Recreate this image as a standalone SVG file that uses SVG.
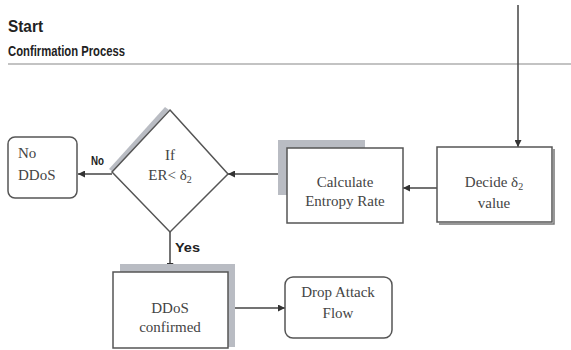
<svg xmlns="http://www.w3.org/2000/svg" width="571" height="350" viewBox="0 0 571 350">
  <defs>
    <marker id="arrow" viewBox="0 0 10 10" refX="10" refY="5" markerWidth="7" markerHeight="7" markerUnits="userSpaceOnUse" orient="auto">
      <path d="M0,0 L10,5 L0,10 Z" fill="#333"/>
    </marker>
  </defs>
  <style>
    .box { fill: #fff; stroke: #555; stroke-width: 1.5; }
    .shadow { fill: #b9bcc3; stroke: none; }
    .label { font-family: "Liberation Serif", "DejaVu Serif", serif; font-size: 15px; fill: #444; text-anchor: middle; }
    .head { font-family: "Liberation Sans", Arial, sans-serif; font-weight: bold; fill: #222; }
    .tag { font-family: "Liberation Sans", Arial, sans-serif; font-weight: bold; font-size: 12px; fill: #222; }
    .conn { stroke: #444; stroke-width: 1.5; fill: none; }
  </style>
  <rect width="571" height="350" fill="#fff"/>

  <!-- header -->
  <g id="header">
    <text class="head" x="8" y="32" font-size="17" textLength="35" lengthAdjust="spacingAndGlyphs">Start</text>
    <text class="head" x="8" y="56" font-size="15" textLength="117" lengthAdjust="spacingAndGlyphs">Confirmation Process</text>
    <line x1="8" y1="64" x2="571" y2="64" stroke="#888" stroke-width="1.2"/>
  </g>

  <!-- connectors -->
  <g id="connectors">
    <line class="conn" x1="518" y1="5" x2="518" y2="147" marker-end="url(#arrow)"/>
    <line class="conn" x1="437" y1="188" x2="403" y2="188" marker-end="url(#arrow)"/>
    <line class="conn" x1="287" y1="174" x2="228" y2="174" marker-end="url(#arrow)"/>
    <line class="conn" x1="112" y1="174" x2="78" y2="174" marker-end="url(#arrow)"/>
    <line class="conn" x1="170" y1="232" x2="170" y2="270" marker-end="url(#arrow)"/>
    <line class="conn" x1="228" y1="308" x2="285" y2="308" marker-end="url(#arrow)"/>
    <text class="tag" x="91" y="165" font-size="12" textLength="13" lengthAdjust="spacingAndGlyphs">No</text>
    <text class="tag" x="175" y="252" font-size="14" textLength="25" lengthAdjust="spacingAndGlyphs">Yes</text>
  </g>

  <!-- Decide delta2 value -->
  <g id="decide">
    <polyline points="554,149 554,224 439,224" fill="none" stroke="#777" stroke-width="1.5"/>
    <rect class="box" x="437" y="147" width="115" height="75"/>
    <text class="label" x="494" y="187">Decide δ<tspan font-size="10" dy="3">2</tspan></text>
    <text class="label" x="494" y="208">value</text>
  </g>

  <!-- Calculate Entropy Rate -->
  <g id="calculate">
    <rect class="shadow" x="278" y="140" width="87" height="55"/>
    <rect class="box" x="287" y="148" width="116" height="75"/>
    <text class="label" x="345" y="187">Calculate</text>
    <text class="label" x="345" y="206">Entropy Rate</text>
  </g>

  <!-- decision -->
  <g id="decision">
    <polygon points="109,169 165,107 169,110 113,172" fill="#b9bcc3"/>
    <polygon class="box" points="170,110 228,174 170,232 112,172"/>
    <text class="label" x="170" y="160">If</text>
    <text class="label" x="170" y="180">ER&lt; δ<tspan font-size="10" dy="3">2</tspan></text>
  </g>

  <!-- No DDoS -->
  <g id="no-ddos">
    <rect class="box" x="8" y="137" width="69" height="61" rx="7"/>
    <text class="label" x="18" y="158" style="text-anchor:start">No</text>
    <text class="label" x="18" y="180" style="text-anchor:start">DDoS</text>
  </g>

  <!-- DDoS confirmed -->
  <g id="ddos-confirmed">
    <rect class="shadow" x="120" y="264" width="115" height="83"/>
    <rect class="box" x="113" y="272" width="115" height="76"/>
    <text class="label" x="170" y="313">DDoS</text>
    <text class="label" x="170" y="332">confirmed</text>
  </g>

  <!-- Drop Attack Flow -->
  <g id="drop">
    <rect class="box" x="285" y="277" width="107" height="61" rx="8"/>
    <text class="label" x="338" y="297">Drop Attack</text>
    <text class="label" x="338" y="318">Flow</text>
  </g>
</svg>
